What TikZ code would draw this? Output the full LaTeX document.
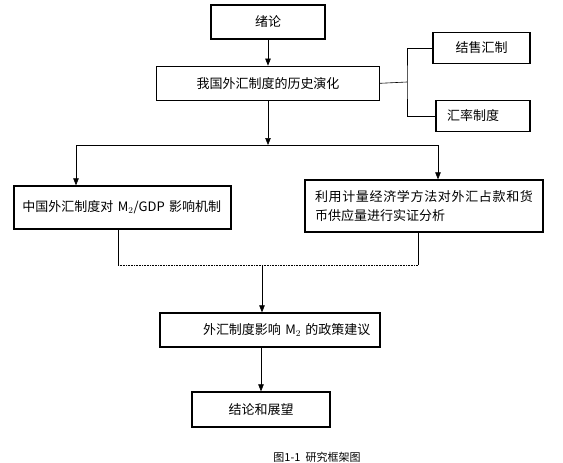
\documentclass[tikz,border=0pt]{standalone}
\usepackage{fontspec}
\setmainfont{Noto Sans CJK SC}
\usetikzlibrary{arrows.meta, positioning}
\XeTeXlinebreaklocale "zh"
\XeTeXlinebreakskip=0pt plus 3pt

\begin{document}
\begin{tikzpicture}[
  x=1pt, y=-1pt,
  font=\fontsize{13}{19}\selectfont,
  box/.style={rectangle, draw=black, line width=1.3pt, inner sep=0pt, align=center},
  arrow/.style={-{Triangle[length=7pt, width=5.5pt]}, line width=0.6pt},
  link/.style={line width=0.6pt},
]
\useasboundingbox (0,0) rectangle (563,463);

% Main column
\node[box, minimum width=114pt, minimum height=34pt] (intro) at (268,22) {绪论};
\node[box, minimum width=223pt, minimum height=34pt, below=26pt of intro] (history) {我国外汇制度的历史演化};

\draw[arrow] (intro) -- (history);

% Side branch
\node[box, minimum width=97pt, minimum height=31pt] (settle) at (481.5,48) {结售汇制};
\node[box, minimum width=94pt, minimum height=31pt, text width=72pt, align=left] (rate) at (483,116) {汇率制度};
\coordinate (fork) at (407,82);

\draw[link] (history.east) -- (fork);
\draw[link] (settle.west) -| (fork) |- (rate.west);

% Split
\node[box, minimum width=217pt, minimum height=43pt, text width=200pt, align=left] (mech) at (122.5,207.5) {中国外汇制度对 M$_2$/GDP 影响机制};
\node[box, minimum width=238pt, minimum height=52pt, text width=218pt, align=justify] (empir) at (424,206) {利用计量经济学方法对外汇占款和货\linebreak 币供应量进行实证分析};
\coordinate (split) at (268,145);
\coordinate (splitL) at (76,145);
\coordinate (splitR) at (438,145);

\draw[arrow] (history) -- (split);
\draw[link] (splitL) -- (splitR);
\draw[arrow] (splitL) -- (splitL |- mech.north);
\draw[arrow] (splitR) -- (splitR |- empir.north);

% Merge
\coordinate (mergeL) at (118,265);
\coordinate (mergeR) at (418,265);
\coordinate (merge) at (262,265);
\node[box, minimum width=220pt, minimum height=34pt, text width=220pt, align=left] (policy) at (270,330) {\hspace*{43pt}外汇制度影响 M$_2$ 的政策建议};
\node[box, minimum width=138pt, minimum height=35pt] (concl) at (261,409.5) {结论和展望};

\draw[link] (mergeL |- mech.south) -- (mergeL);
\draw[link] (mergeR |- empir.south) -- (mergeR);
\draw[link, densely dotted] (mergeL) -- (mergeR);
\draw[arrow] (merge) -- (merge |- policy.north);
\draw[arrow] (concl.north |- policy.south) -- (concl);

% Caption
\node[font=\fontsize{11}{13}\selectfont] (caption) at (317,457) {图1-1\hspace{5pt}研究框架图};

\end{tikzpicture}
\end{document}
